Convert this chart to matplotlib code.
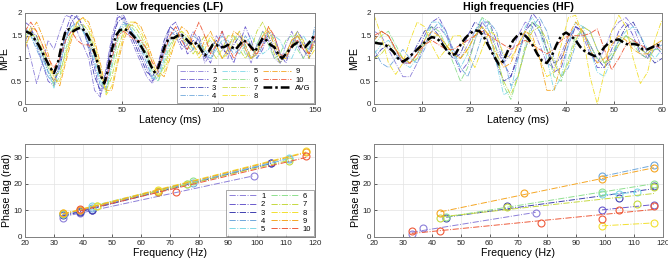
import matplotlib
matplotlib.use("Agg")
import matplotlib.pyplot as plt
import numpy as np

plt.rcParams['font.family'] = ['Liberation Sans', 'DejaVu Sans']

# subject colours (1..10)
colors = ['#8C7FD9', '#6A5ACD', '#4040B0', '#6FA8DC', '#7FD8E8',
          '#8EE08E', '#C5D940', '#F2E030', '#F5A623', '#EE5A3A']
names = [str(i) for i in range(1, 11)]

# ---- Low frequencies: MPE vs latency (ms), sampled every 3 ms ----
lf_t = np.arange(0, 151, 3)
lf_mpe = [
    [1.5,1.0,0.45,0.9,1.4,1.2,1.6,1.95,1.9,1.6,1.3,1.0,0.3,0.15,0.8,1.5,1.95,1.85,1.5,1.2,0.9,0.6,0.45,0.8,1.3,1.6,1.5,1.2,1.3,1.6,1.4,0.9,1.1,1.5,1.3,1.0,1.4,1.6,1.2,0.9,1.3,1.6,1.4,1.0,0.9,1.3,1.6,1.3,1.0,1.2,1.5],
    [1.8,1.7,1.3,0.9,0.5,0.4,0.9,1.6,1.95,1.9,1.7,1.3,0.8,0.2,0.5,1.3,1.9,1.95,1.7,1.4,1.1,0.8,0.5,0.7,1.2,1.7,1.8,1.5,1.1,1.2,1.5,1.1,0.9,1.3,1.6,1.2,0.9,1.3,1.7,1.4,1.0,1.2,1.6,1.5,1.1,0.9,1.3,1.6,1.4,1.1,1.6],
    [1.4,1.6,1.5,1.1,0.7,0.5,0.8,1.4,1.8,1.95,1.7,1.2,0.6,0.3,0.7,1.4,1.8,1.9,1.6,1.3,1.0,0.7,0.6,0.9,1.4,1.7,1.6,1.3,1.2,1.4,1.3,1.0,1.2,1.4,1.2,1.1,1.3,1.5,1.3,1.0,1.1,1.4,1.5,1.2,0.9,1.1,1.4,1.5,1.2,1.0,1.4],
    [1.7,1.5,1.2,0.9,0.6,0.45,1.0,1.5,1.7,1.8,1.6,1.3,0.9,0.4,0.35,1.0,1.6,1.8,1.7,1.5,1.2,0.9,0.55,0.6,1.1,1.5,1.6,1.4,1.3,1.5,1.4,1.1,1.0,1.3,1.5,1.3,1.1,1.2,1.5,1.3,1.0,1.3,1.6,1.4,1.1,1.0,1.3,1.5,1.3,1.2,1.7],
    [1.6,1.5,1.3,1.0,0.7,0.35,0.8,1.4,1.7,1.7,1.6,1.4,1.0,0.5,0.3,0.9,1.5,1.75,1.7,1.5,1.3,1.0,0.6,0.5,1.0,1.4,1.5,1.5,1.4,1.2,1.3,1.2,1.0,1.2,1.4,1.4,1.2,1.1,1.3,1.5,1.3,1.1,1.2,1.5,1.4,1.1,1.0,1.3,1.5,1.3,1.6],
    [1.5,1.6,1.4,1.1,0.8,0.4,0.6,1.2,1.6,1.8,1.7,1.5,1.1,0.6,0.25,0.8,1.4,1.7,1.75,1.6,1.4,1.1,0.7,0.5,0.9,1.3,1.5,1.6,1.4,1.2,1.1,1.3,1.4,1.2,1.0,1.2,1.5,1.4,1.1,1.0,1.3,1.6,1.3,1.0,1.1,1.4,1.5,1.2,1.0,1.3,1.4],
    [1.3,1.5,1.5,1.2,0.9,0.6,0.7,1.1,1.5,1.7,1.75,1.6,1.2,0.7,0.3,0.6,1.2,1.6,1.75,1.7,1.5,1.2,0.8,0.6,0.8,1.2,1.5,1.5,1.3,1.1,1.3,1.5,1.2,1.0,1.2,1.5,1.5,1.2,1.0,1.2,1.6,1.8,1.5,1.1,0.9,1.1,1.4,1.6,1.3,1.1,1.3],
    [1.4,1.7,1.6,1.3,0.9,0.5,0.5,1.0,1.5,1.8,1.9,1.7,1.3,0.8,0.2,0.4,1.0,1.5,1.8,1.8,1.6,1.3,0.9,0.6,0.7,1.1,1.4,1.6,1.5,1.3,1.0,1.2,1.5,1.3,1.0,1.1,1.4,1.6,1.3,1.0,1.1,1.5,1.7,1.4,1.0,1.0,1.3,1.5,1.4,1.0,1.2],
    [1.2,1.6,1.8,1.5,1.1,0.6,0.4,0.9,1.4,1.8,1.9,1.8,1.4,0.9,0.3,0.3,0.9,1.4,1.7,1.8,1.7,1.4,1.0,0.7,0.6,1.0,1.4,1.7,1.6,1.3,1.1,1.4,1.6,1.3,1.0,1.2,1.6,1.5,1.2,1.0,1.2,1.5,1.6,1.3,1.0,1.1,1.4,1.5,1.3,1.1,1.4],
    [1.6,1.8,1.6,1.3,1.0,0.8,1.0,1.4,1.6,1.4,1.3,1.3,1.1,0.6,0.5,1.0,1.5,1.6,1.5,1.4,1.4,1.2,0.9,0.8,1.1,1.5,1.7,1.4,1.2,1.5,1.8,1.5,1.1,1.3,1.6,1.3,1.0,1.2,1.4,1.2,1.1,1.3,1.7,1.5,1.1,1.0,1.3,1.4,1.2,1.1,1.5],
]
lf_avg_t = [0,3,7,10,13,15,17,19,21,23,25,27,29,31,33,35,37,39,41,43,45,47,49,51,53,55,57,59,61,63,65,67,69,71,73,75,77,79,81,83,85,87,89,91,93,95,97,99,101,103,105,107,109,111,113,115,117,119,121,123,125,127,129,131,133,135,137,139,141,143,145,147,150]
lf_avg = [1.6,1.55,1.3,1.05,0.8,0.68,0.9,1.3,1.6,1.65,1.6,1.65,1.68,1.6,1.45,1.25,1.0,0.65,0.45,0.75,1.2,1.5,1.62,1.65,1.62,1.55,1.45,1.35,1.2,1.05,0.85,0.7,0.8,1.1,1.35,1.45,1.45,1.5,1.52,1.45,1.35,1.3,1.35,1.2,1.07,1.15,1.3,1.3,1.25,1.25,1.3,1.25,1.2,1.3,1.4,1.35,1.25,1.15,1.3,1.45,1.4,1.3,1.25,1.1,1.0,1.1,1.2,1.3,1.35,1.25,1.25,1.35,1.52]

# ---- High frequencies: MPE vs latency (ms), sampled every 1.5 ms ----
hf_t = np.arange(0, 60.1, 1.5)
hf_mpe = [
    [1.6,1.5,1.2,0.9,0.6,0.6,0.9,1.3,1.6,1.7,1.5,1.2,1.0,1.3,1.6,1.8,1.6,1.2,0.9,1.1,1.5,1.8,1.7,1.3,0.9,0.8,1.1,1.5,1.7,1.5,1.1,0.9,1.2,1.6,1.8,1.9,1.7,1.3,1.0,1.2,1.4],
    [1.4,1.6,1.5,1.2,0.9,0.9,1.1,1.5,1.8,1.9,1.6,1.1,0.7,0.9,1.4,1.8,1.8,1.4,0.9,0.6,1.0,1.6,2.0,1.8,1.2,0.7,0.8,1.3,1.7,1.6,1.2,0.8,0.8,1.2,1.6,1.8,1.5,1.1,1.0,1.3,1.1],
    [1.0,1.2,1.3,1.1,0.9,1.0,1.3,1.6,1.7,1.5,1.2,1.0,1.1,1.5,1.8,1.7,1.3,0.9,0.5,0.6,1.1,1.6,1.8,1.6,1.2,0.9,1.0,1.4,1.7,1.6,1.3,1.0,0.8,1.0,1.4,1.7,1.8,1.5,1.1,0.9,1.0],
    [1.2,0.9,0.8,1.0,1.2,1.0,0.9,1.2,1.6,1.8,1.6,1.2,0.8,0.6,1.0,1.5,1.8,1.6,1.0,0.4,0.6,1.2,1.7,1.9,1.6,1.0,0.6,0.8,1.3,1.7,1.6,1.2,0.9,1.0,1.3,1.5,1.4,1.2,1.1,1.2,1.3],
    [1.1,1.3,1.4,1.2,0.9,0.8,1.0,1.4,1.8,1.8,1.5,1.1,0.8,1.1,1.6,1.9,1.6,0.9,0.2,0.3,1.0,1.7,1.9,1.6,1.0,0.3,0.6,1.3,1.8,1.7,1.2,0.7,0.6,1.0,1.4,1.6,1.7,1.5,1.2,1.0,1.2],
    [1.3,1.5,1.6,1.3,1.0,0.9,1.1,1.4,1.7,1.6,1.3,0.9,0.5,0.8,1.4,1.9,1.8,1.2,0.4,0.1,0.6,1.3,1.8,1.7,1.2,0.6,0.5,1.0,1.5,1.6,1.3,1.0,0.9,1.1,1.4,1.5,1.3,1.1,1.0,1.2,1.2],
    [1.0,1.1,1.3,1.2,1.0,0.9,1.0,1.3,1.5,1.5,1.3,1.1,1.0,1.2,1.5,1.7,1.5,1.0,0.5,0.2,0.6,1.2,1.6,1.7,1.4,0.9,0.6,0.9,1.4,1.7,1.6,1.2,0.9,1.0,1.3,1.5,1.4,1.2,1.1,1.3,1.4],
    [1.95,1.5,0.9,0.65,0.9,1.4,1.8,1.7,1.3,1.0,1.2,1.5,1.5,1.1,0.8,1.2,1.6,1.5,1.1,1.0,1.3,1.6,1.4,1.0,0.6,0.7,1.3,1.9,1.95,1.5,0.6,0.0,0.7,1.6,1.95,1.7,1.0,0.45,0.7,1.4,1.85],
    [1.4,1.6,1.5,1.2,1.0,0.9,1.1,1.4,1.6,1.5,1.3,1.1,1.0,1.2,1.5,1.7,1.5,1.1,0.8,0.9,1.3,1.6,1.5,1.0,0.3,0.3,0.9,1.5,1.8,1.6,1.2,0.9,1.0,1.3,1.5,1.4,1.2,1.1,1.1,1.3,1.4],
    [1.5,1.6,1.5,1.2,0.9,0.9,1.1,1.3,1.4,1.3,1.2,1.2,1.3,1.4,1.5,1.6,1.5,1.4,1.3,1.2,1.3,1.4,1.3,1.2,1.1,1.2,1.4,1.5,1.5,1.5,1.55,1.65,1.2,0.75,1.0,1.3,1.4,1.3,1.2,1.3,1.2],
]
hf_avg_t = np.arange(0, 61, 1)
hf_avg = [1.35,1.33,1.32,1.25,1.15,1.0,0.93,1.0,1.1,1.2,1.3,1.4,1.47,1.45,1.35,1.2,1.07,1.1,1.3,1.45,1.55,1.62,1.6,1.45,1.25,1.05,0.87,0.95,1.2,1.4,1.52,1.55,1.45,1.3,1.1,0.95,0.9,1.05,1.3,1.5,1.57,1.5,1.4,1.25,1.15,1.1,1.05,1.1,1.25,1.35,1.4,1.42,1.35,1.3,1.32,1.3,1.2,1.2,1.25,1.3,1.25]

# ---- Phase lag vs frequency ----
lf_freq = [[33,39,43,99], [33,39,43,105], [33,39,43,66,105], [33,43,78,111], [43,76,111],
           [33,45,78], [39,66,76,111], [33,45,66,117], [33,39,66,117], [39,72,117]]
lf_lag = [[7.3,9.0,10.2,23.0], [8.5,9.8,10.3,28.0], [8.3,9.5,10.0,17.0,27.8], [8.7,10.8,20.5,29.5], [11.8,20.0,29.8],
          [8.8,11.5,21.0], [10.2,17.3,20.0,28.7], [9.2,11.8,17.5,32.2], [9.0,10.2,17.0,32.0], [10.6,17.0,30.5]]
hf_freq = [[33,37,76], [99,117], [45,66,105,117], [99,117], [99,105,111],
           [45,99,117], [43,66,111,117], [99,117], [43,72,99,117], [33,43,78,99,105,117]]
hf_lag = [[1.0,3.3,9.2], [10.2,12.2], [7.0,11.6,14.8,19.2], [22.8,27.0], [16.0,16.0,17.0],
          [7.5,17.0,20.0], [7.2,11.2,12.5,19.0], [4.2,5.3], [9.2,16.5,21.8,26.0], [2.2,2.2,5.2,6.7,10.0,11.5]]

fig = plt.figure(figsize=(6.68, 2.63), dpi=100)
ax1 = fig.add_axes([0.0374, 0.6046, 0.434, 0.346])
ax2 = fig.add_axes([0.560, 0.6046, 0.431, 0.346])
ax3 = fig.add_axes([0.0374, 0.0989, 0.434, 0.3536])
ax4 = fig.add_axes([0.560, 0.0989, 0.432, 0.3536])

avg_style = (0, (3.5, 1.2, 1.0, 1.2))

def style(ax):
    ax.grid(True, color='#e3e3e3', lw=0.5)
    ax.set_axisbelow(True)
    ax.tick_params(direction='in', length=2, width=0.5, labelsize=5.8, pad=2, colors='#262626')
    for sp in ax.spines.values():
        sp.set_color('#808080')
        sp.set_linewidth(0.7)

# top left
for i in range(10):
    ax1.plot(lf_t, lf_mpe[i], ls='-.', lw=0.6, color=colors[i], label=names[i])
ax1.plot(lf_avg_t, lf_avg, ls=avg_style, lw=1.8, color='black', label='AVG')
ax1.set_xlim(0, 150)
ax1.set_ylim(0, 2)
ax1.set_xticks([0, 50, 100, 150])
ax1.set_yticks([0, 0.5, 1, 1.5, 2])
ax1.set_yticklabels(['0', '0.5', '1', '1.5', '2'])
ax1.set_title('Low frequencies (LF)', fontsize=7.7, fontweight='bold', pad=2)
ax1.set_xlabel('Latency (ms)', fontsize=7.7, labelpad=1)
ax1.set_ylabel('MPE', fontsize=7.7, labelpad=1)
style(ax1)
leg = ax1.legend(ncol=3, loc='lower right', fontsize=5.5, frameon=True, fancybox=False,
                 handlelength=3.6, handletextpad=0.6, columnspacing=0.7, labelspacing=0.12,
                 borderpad=0.35, borderaxespad=0.15)
leg.get_frame().set_edgecolor('#808080')
leg.get_frame().set_linewidth(0.6)

# top right
for i in range(10):
    ax2.plot(hf_t, hf_mpe[i], ls='-.', lw=0.6, color=colors[i])
ax2.plot(hf_avg_t, hf_avg, ls=avg_style, lw=1.8, color='black')
ax2.set_xlim(0, 60)
ax2.set_ylim(0, 2)
ax2.set_xticks(range(0, 61, 10))
ax2.set_yticks([0, 0.5, 1, 1.5, 2])
ax2.set_yticklabels(['0', '0.5', '1', '1.5', '2'])
ax2.set_title('High frequencies (HF)', fontsize=7.7, fontweight='bold', pad=2)
ax2.set_xlabel('Latency (ms)', fontsize=7.7, labelpad=1)
ax2.set_ylabel('MPE', fontsize=7.7, labelpad=1)
style(ax2)

# bottom panels: fitted lines + markers
for ax, freq, lag in [(ax3, lf_freq, lf_lag), (ax4, hf_freq, hf_lag)]:
    for i in range(10):
        f = np.array(freq[i])
        p = np.array(lag[i])
        k, b = np.polyfit(f, p, 1)
        fx = np.array([f.min(), f.max()])
        ax.plot(fx, k * fx + b, ls='-.', lw=0.7, color=colors[i], label=names[i])
        ax.plot(f, p, 'o', ms=5, mfc='none', mec=colors[i], mew=0.8)
    ax.set_xlim(20, 120)
    ax.set_ylim(0, 35)
    ax.set_xticks(range(20, 121, 10))
    ax.set_yticks([0, 10, 20, 30])
    ax.set_xlabel('Frequency (Hz)', fontsize=7.7, labelpad=1)
    ax.set_ylabel('Phase lag (rad)', fontsize=7.7, labelpad=1)
    style(ax)

leg2 = ax3.legend(ncol=2, loc='lower right', fontsize=5.5, frameon=True, fancybox=False,
                  handlelength=3.6, handletextpad=0.6, columnspacing=0.7, labelspacing=0.12,
                  borderpad=0.35, borderaxespad=0.15)
leg2.get_frame().set_edgecolor('#808080')
leg2.get_frame().set_linewidth(0.6)

fig.savefig('out.png', dpi=100)
